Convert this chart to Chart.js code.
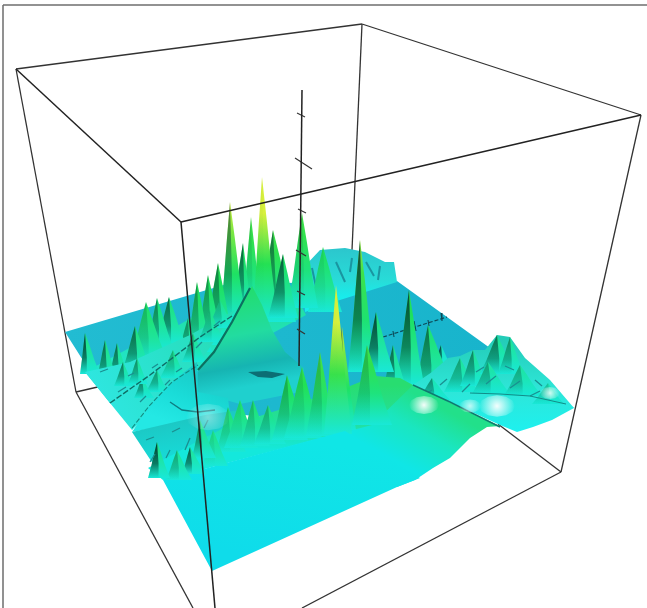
<!DOCTYPE html>
<html>
<head>
<meta charset="utf-8">
<title>surface</title>
<script src="https://cdn.jsdelivr.net/npm/chart.js@4"></script>
<style>
  html, body { margin: 0; background: #fff; }
  canvas { display: block; filter: blur(0.7px); }
</style>
</head>
<body>
<canvas id="surface" width="647" height="608"></canvas>
<script>

const frameLines = [
  [[3, 5], [647, 5]],
  [[3, 5], [3, 608]]
];
const boxBackEdges = [
  [[16, 69], [362, 24]],
  [[362, 24], [641, 115]],
  [[16, 69], [76, 392]],
  [[362, 24], [352, 250]],
  [[641, 115], [561, 472]],
  [[76, 392], [193, 608]],
  [[76, 392], [102, 386]],
  [[302, 608], [561, 472]],
  [[561, 472], [498, 424]]
];
const boxFrontEdges = [
  [[16, 69], [181, 222]],
  [[181, 222], [641, 115]],
  [[181, 222], [215, 608]]
];
const zAxis = [[302, 90], [299, 366]];
const zTicks = [
  [[297, 113], [305, 117]],
  [[295, 158], [312, 169]],
  [[298, 209], [306, 213]],
  [[296, 250], [306, 256]],
  [[297, 291], [305, 295]],
  [[297, 329], [305, 334]]
];
const xAxis = [[383, 337], [447, 317]];
const xTicks = [
  [[393, 331], [394, 337]],
  [[414, 321], [416, 331]],
  [[428, 320], [429, 326]],
  [[441, 313], [442, 321]]
];

// flat floor behind everything
const floorBack = [[65, 332], [227, 284], [397, 281], [490, 348], [574, 408], [413, 400], [300, 420], [110, 403]];
// raised block at the back
const backPlateau = [[303, 268], [320, 250], [345, 248], [365, 252], [385, 262], [394, 262], [397, 282], [340, 300], [305, 312]];
const plateauStreaks = [
  [[312, 268], [318, 296]],
  [[336, 262], [345, 282]],
  [[352, 258], [350, 272]],
  [[366, 262], [374, 276]],
  [[380, 266], [378, 280]],
  [[326, 272], [332, 292]]
];
const backSkirt = [[85, 372], [135, 345], [170, 330], [205, 310], [235, 285], [262, 262], [290, 285], [306, 315], [260, 340], [170, 385], [110, 403]];
// smooth bowls in the middle
const bowlGreen = [[252, 286], [262, 305], [272, 330], [285, 352], [304, 368], [300, 392], [240, 404], [197, 392], [198, 372], [214, 352], [232, 322]];
const bowlDark = [[248, 372], [266, 371], [285, 374], [272, 378], [258, 377]];
const bowlCyan = [[197, 362], [198, 392], [228, 398], [230, 414], [132, 432], [150, 405], [172, 382]];
const ridgeUpper = [[110, 403], [150, 375], [200, 337], [232, 316]];
const ridgeLower = [[198, 370], [214, 352], [232, 322], [250, 288]];
const ridgeFaint = [[132, 428], [150, 405], [172, 382], [198, 365]];
const bowlArc = [[170, 402], [182, 410], [198, 412], [215, 410]];
const leftRough = [[85, 372], [130, 362], [190, 335], [235, 310], [198, 365], [132, 430], [110, 403]];
const frontRoughFloor = [[132, 432], [205, 415], [240, 410], [240, 450], [165, 482]];
const frontSkirt = [[148, 468], [200, 440], [228, 426], [285, 408], [345, 388], [375, 376], [400, 378], [413, 385], [372, 425], [345, 432], [163, 480]];

// tip x, tip y, base left x, base right x, base y, shade of the dark side
const backSpikes = [
  [323, 247, 308, 342, 312, 0.1],
  [302, 213, 288, 318, 308, 0.15],
  [251, 217, 242, 262, 312, 0.15],
  [243, 243, 232, 252, 312, 0.7],
  [273, 230, 258, 296, 322, 0.6],
  [262, 177, 252, 278, 322, 0.03],
  [283, 254, 268, 298, 318, 0.75],
  [230, 202, 220, 246, 322, 0.55],
  [218, 263, 204, 234, 340, 0.55],
  [208, 275, 196, 224, 345, 0.45],
  [197, 282, 186, 212, 352, 0.45],
  [188, 318, 176, 200, 360, 0.5],
  [169, 297, 156, 186, 345, 0.7],
  [157, 298, 146, 174, 350, 0.55],
  [146, 302, 130, 168, 362, 0.25],
  [135, 326, 122, 152, 372, 0.7],
  [117, 343, 108, 130, 380, 0.7],
  [105, 340, 96, 118, 382, 0.7],
  [85, 333, 80, 100, 374, 0.95]
];
const midBumps = [
  [220, 300, 208, 234, 328, 0.3],
  [210, 310, 198, 224, 342, 0.3],
  [193, 333, 182, 206, 362, 0.45],
  [173, 350, 160, 186, 378, 0.3],
  [157, 370, 146, 168, 392, 0.45],
  [142, 378, 134, 154, 398, 0.6],
  [123, 362, 114, 134, 386, 0.6],
  [137, 358, 128, 148, 384, 0.5]
];
const rightSpikes = [
  [441, 345, 434, 450, 364, 0.9],
  [428, 325, 414, 456, 392, 0.65],
  [409, 290, 396, 424, 385, 0.85],
  [393, 345, 382, 408, 392, 0.7],
  [360, 240, 348, 376, 372, 0.85],
  [376, 312, 364, 394, 372, 0.9]
];
const frontSpikes = [
  [228, 407, 216, 246, 452, 0.2],
  [240, 400, 224, 258, 448, 0.1],
  [253, 400, 240, 270, 446, 0.25],
  [268, 405, 254, 286, 444, 0.3],
  [287, 375, 272, 308, 440, 0.3],
  [302, 367, 284, 322, 438, 0.15],
  [320, 352, 306, 336, 436, 0.25],
  [342, 327, 330, 356, 430, 0.65],
  [367, 345, 352, 392, 425, 0.25],
  [336, 285, 324, 352, 434, 0.01]
];
const frontRough = [
  [213, 430, 202, 228, 466, 0.1],
  [200, 420, 192, 216, 458, 0.6],
  [190, 447, 182, 206, 474, 0.8],
  [177, 450, 166, 192, 480, 0.35],
  [157, 442, 148, 170, 478, 0.95]
];
const flapOutline = [[413, 385], [432, 372], [448, 358], [460, 356], [473, 350], [485, 350], [497, 335], [510, 337], [525, 358], [550, 380], [574, 408], [552, 420], [533, 427], [517, 432], [500, 425]];
const flapBumps = [
  [460, 358, 444, 478, 392, 0.4],
  [473, 350, 460, 488, 386, 0.55],
  [497, 335, 480, 516, 374, 0.65],
  [510, 337, 498, 524, 374, 0.5],
  [488, 362, 472, 510, 394, 0.4],
  [520, 365, 504, 542, 396, 0.35],
  [432, 378, 418, 450, 400, 0.5],
  [548, 383, 532, 564, 404, 0.2]
];
const roughMarks = [
  [[100, 372], [108, 369]], [[118, 392], [126, 387]], [[140, 402], [146, 396]],
  [[152, 368], [158, 364]], [[176, 372], [182, 368]], [[196, 348], [202, 342]],
  [[214, 326], [220, 321]], [[128, 376], [134, 373]], [[165, 385], [170, 380]],
  [[150, 462], [155, 454]], [[166, 458], [170, 450]], [[185, 450], [190, 438]],
  [[204, 428], [208, 420]], [[172, 432], [180, 428]], [[146, 440], [154, 437]],
  [[440, 385], [447, 379]], [[462, 392], [470, 384]], [[486, 384], [496, 376]],
  [[510, 388], [520, 381]], [[530, 396], [540, 391]], [[476, 372], [484, 367]],
  [[505, 366], [514, 370]], [[535, 380], [542, 386]], [[424, 395], [432, 390]]
];

const rightSlope = [[345, 430], [372, 398], [413, 385], [500, 426], [487, 427], [470, 438], [450, 458], [433, 468], [415, 480], [397, 487], [320, 470]];
const flapEdge = [[413, 385], [450, 402], [500, 427]];
const flapRidge = [[470, 393], [500, 394], [530, 396], [566, 404]];
const frontSheet = [[212, 571], [163, 480], [345, 431], [420, 478], [397, 487]];
// centre x, centre y, radius, strength
const highlightSpots = [
  [424, 405, 15, 0.95],
  [470, 406, 11, 0.7],
  [497, 406, 18, 0.95],
  [550, 393, 10, 0.8],
  [208, 417, 22, 0.4]
];

const datasets = [];

function px(chart, x, y) {
  return [chart.scales.x.getPixelForValue(x), chart.scales.y.getPixelForValue(y)];
}

function linear(from, to, stops) {
  return ctx => {
    const chart = ctx.chart;
    if (!chart.chartArea) return stops[0][1];
    const a = px(chart, from[0], from[1]);
    const b = px(chart, to[0], to[1]);
    const g = chart.ctx.createLinearGradient(a[0], a[1], b[0], b[1]);
    stops.forEach(s => g.addColorStop(s[0], s[1]));
    return g;
  };
}

function radial(x, y, r, stops) {
  return ctx => {
    const chart = ctx.chart;
    if (!chart.chartArea) return stops[0][1];
    const a = px(chart, x, y);
    const g = chart.ctx.createRadialGradient(a[0], a[1], 0, a[0], a[1], r);
    stops.forEach(s => g.addColorStop(s[0], s[1]));
    return g;
  };
}

function addLine(points, color, width, dash) {
  datasets.push({
    data: points.map(p => ({x: p[0], y: p[1]})),
    showLine: true, pointRadius: 0, borderColor: color, borderWidth: width, fill: false,
    borderDash: dash || []
  });
}

function addShape(points, fill) {
  datasets.push({
    data: points.concat([points[0]]).map(p => ({x: p[0], y: p[1]})),
    showLine: true, pointRadius: 0, borderWidth: 0, borderColor: 'transparent',
    backgroundColor: fill, fill: 'shape'
  });
}

// height on screen -> colour of the surface
const heightRamp = [
  [0, [24, 232, 222]],
  [40, [30, 228, 150]],
  [85, [30, 225, 85]],
  [120, [70, 226, 70]],
  [140, [215, 240, 60]]
];

function rampColor(h) {
  let i = 0;
  while (i < heightRamp.length - 2 && h > heightRamp[i + 1][0]) i++;
  const a = heightRamp[i], b = heightRamp[i + 1];
  const t = Math.min(1, Math.max(0, (h - a[0]) / (b[0] - a[0])));
  const c = a[1].map((v, k) => Math.round(v + (b[1][k] - v) * t));
  return 'rgb(' + c.join(',') + ')';
}

// boost: the front rows sit lower on screen than their real height
function addSpikes(rows, boost) {
  rows.forEach(r => {
    const [tipX, tipY, left, right, base, shade] = r;
    const h = base - tipY;
    const ch = h * (boost || 1);
    const side = (edge, f) => tipX + (edge - tipX) * f;
    const body = [
      [left, base],
      [side(left, 0.62), base - h * 0.35],
      [side(left, 0.3), base - h * 0.7],
      [tipX, tipY],
      [side(right, 0.3), base - h * 0.7],
      [side(right, 0.62), base - h * 0.35],
      [right, base]
    ];
    addShape(body, linear([tipX, tipY], [tipX, base], [
      [0, rampColor(ch)],
      [0.25, rampColor(ch * 0.85)],
      [0.6, rampColor(ch * 0.5)],
      [1, rampColor(4)]
    ]));
    const mid = side(right, 0.12);
    const dark = [
      [left, base],
      [side(left, 0.62), base - h * 0.35],
      [side(left, 0.3), base - h * 0.7],
      [tipX, tipY],
      [mid, base - h * 0.4],
      [mid, base]
    ];
    addShape(dark, linear([tipX, tipY], [tipX, base], [
      [0, 'rgba(0,45,45,' + shade + ')'],
      [0.6, 'rgba(0,70,60,' + shade * 0.7 + ')'],
      [1, 'rgba(0,90,90,0)']
    ]));
  });
}

frameLines.forEach(l => addLine(l, '#6e6e6e', 1.5));
boxBackEdges.forEach(l => addLine(l, '#333', 1.3));
zTicks.slice(0, 3).forEach(l => addLine(l, '#333', 1.2));

addShape(floorBack, linear([65, 332], [490, 348], [[0, '#22bcd2'], [1, '#18b4cc']]));
addLine(xAxis, '#0d4a58', 1.2, [4, 2]);
xTicks.forEach(l => addLine(l, '#0d4a58', 1.1));

addShape(backPlateau, linear([340, 245], [340, 310], [[0, '#2cc4cc'], [0.55, '#28dcd8'], [0.8, '#18ecec'], [1, '#18ecec']]));
plateauStreaks.forEach(l => addLine(l, '#1a95a0', 2));
addShape(backSkirt, linear([200, 270], [200, 400], [[0, '#20dc90'], [1, '#22e8dc']]));
addSpikes(backSpikes, 1.25);

addShape(leftRough, linear([100, 400], [230, 320], [[0, '#2ee6e0'], [1, '#26dcb4']]));
addSpikes(midBumps, 1.6);
addShape(bowlGreen, linear([245, 290], [262, 384], [[0, '#22dd6e'], [0.45, '#22dca0'], [0.78, '#16b4b2'], [1, '#1fd0ce']]));
addShape(bowlDark, '#0c6e74');
addShape(bowlCyan, linear([200, 365], [175, 425], [[0, '#18c8c4'], [0.55, '#1adcd8'], [1, '#24e8e4']]));
addLine(ridgeUpper, '#0f6e66', 1.4, [6, 2]);
addLine(ridgeLower, '#0c7060', 2.2);
addLine(ridgeFaint, '#128a80', 1.1, [5, 2]);
addLine(bowlArc, '#0e7c80', 1.4);

addLine(zAxis, '#222', 1.5);
zTicks.slice(3).forEach(l => addLine(l, '#333', 1.2));

addSpikes(rightSpikes);
addShape(flapOutline, linear([480, 340], [480, 430], [[0, '#24ccb8'], [0.55, '#2ee6d8'], [1, '#1ef0ee']]));
addSpikes(flapBumps, 1.1);
roughMarks.slice(15).forEach(l => addLine(l, '#1a8f90', 1.3));
addLine(flapRidge, '#128c88', 1);

addShape(rightSlope, linear([385, 455], [417, 395], [[0, '#10e6e6'], [0.55, '#1ae6c0'], [1, '#22e08a']]));
addShape(frontRoughFloor, linear([180, 420], [190, 480], [[0, '#1cc8c4'], [1, '#14e6e4']]));
addShape(frontSkirt, linear([280, 385], [280, 450], [[0, '#28dd70'], [0.6, '#22e0a0'], [1, '#14e8dc']]));
addSpikes(frontSpikes, 1.45);
addShape(frontSheet, linear([300, 440], [280, 560], [[0, '#10e6e6'], [1, '#0fdcea']]));
addLine(flapEdge, '#0f7a70', 1.4);
addSpikes(frontRough, 1.4);
roughMarks.slice(0, 15).forEach(l => addLine(l, '#1a8f90', 1.3));

highlightSpots.forEach(s => {
  const n = 12, ring = [];
  for (let i = 0; i < n; i++) {
    const a = i / n * Math.PI * 2;
    ring.push([s[0] + Math.cos(a) * s[2], s[1] + Math.sin(a) * s[2] * 0.6]);
  }
  addShape(ring, radial(s[0], s[1], s[2], [[0, 'rgba(255,255,255,' + s[3] + ')'], [1, 'rgba(255,255,255,0)']]));
});

boxFrontEdges.forEach(l => addLine(l, '#222', 1.5));

new Chart(document.getElementById('surface'), {
  type: 'scatter',
  // chart.js paints the first dataset last, so flip the painter's order
  data: {datasets: datasets.reverse()},
  options: {
    responsive: false,
    animation: false,
    layout: {padding: 0},
    plugins: {legend: {display: false}, tooltip: {enabled: false}},
    scales: {
      x: {type: 'linear', min: 0, max: 647, display: false},
      y: {type: 'linear', min: 0, max: 608, reverse: true, display: false}
    }
  }
});
</script>
</body>
</html>
